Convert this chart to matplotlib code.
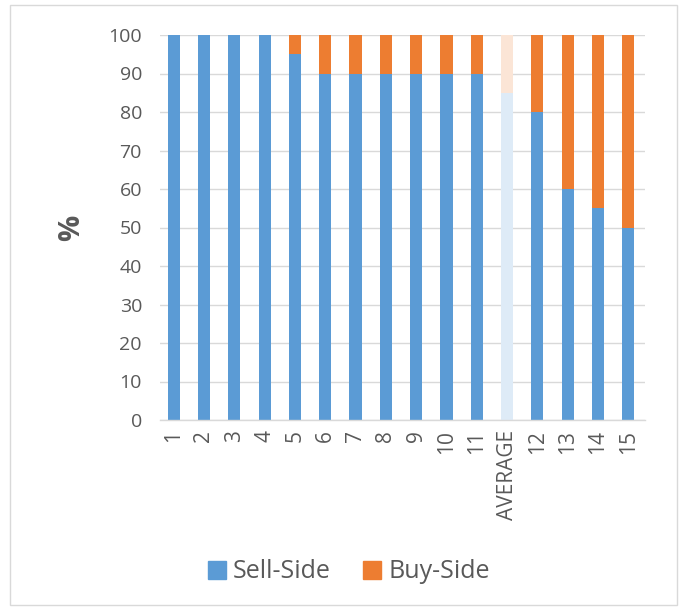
import matplotlib.pyplot as plt
import numpy as np
from matplotlib.patches import Patch, Rectangle

plt.rcParams['font.family'] = ['Open Sans', 'DejaVu Sans']

categories = ['1', '2', '3', '4', '5', '6', '7', '8', '9', '10', '11',
              'AVERAGE', '12', '13', '14', '15']
sell_side = [100, 100, 100, 100, 95, 90, 90, 90, 90, 90, 90, 85, 80, 60, 55, 50]
buy_side = [100 - s for s in sell_side]

blue = '#5b9bd5'
orange = '#ed7d31'
sell_colors = [('#deebf7' if c == 'AVERAGE' else blue) for c in categories]
buy_colors = [('#fbe5d6' if c == 'AVERAGE' else orange) for c in categories]

fig = plt.figure(figsize=(6.81, 6.09), dpi=100)
ax = fig.add_axes([160 / 681, 1 - 420 / 609, 485 / 681, 385 / 609])

x = np.arange(len(categories))
ax.bar(x, sell_side, width=0.4, color=sell_colors, zorder=2)
ax.bar(x, buy_side, width=0.4, bottom=sell_side, color=buy_colors, zorder=2)

ax.set_xlim(-0.45, len(categories) - 0.45)
ax.set_ylim(0, 100)
ax.set_yticks(range(0, 101, 10))
ax.set_xticks(x)
ax.set_xticklabels(categories, rotation=90)
ax.tick_params(axis='both', length=0, colors='#595959', labelsize=14)
ax.tick_params(axis='x', pad=7, labelsize=15)
ax.tick_params(axis='y', pad=13)
ax.grid(axis='y', color='#d9d9d9', linewidth=1, zorder=0)
for s in ['top', 'right', 'left']:
    ax.spines[s].set_visible(False)
ax.spines['bottom'].set_color('#d9d9d9')
ax.spines['bottom'].set_linewidth(1)
ax.set_ylabel('%', fontsize=21, fontweight='bold', color='#595959', labelpad=16)

handles = [Patch(color=blue, label='Sell-Side'), Patch(color=orange, label='Buy-Side')]
fig.legend(handles=handles, loc='center', bbox_to_anchor=(349 / 681, 1 - 572 / 609),
           ncol=2, frameon=False, fontsize=18, labelcolor='#595959',
           handlelength=0.7, handleheight=0.7, handletextpad=0.3, columnspacing=1.3)

fig.patches.append(Rectangle((10 / 681, 4 / 609), 667 / 681, 600 / 609,
                             transform=fig.transFigure, fill=False,
                             edgecolor='#d9d9d9', linewidth=1))

fig.savefig('out.png', dpi=100)
